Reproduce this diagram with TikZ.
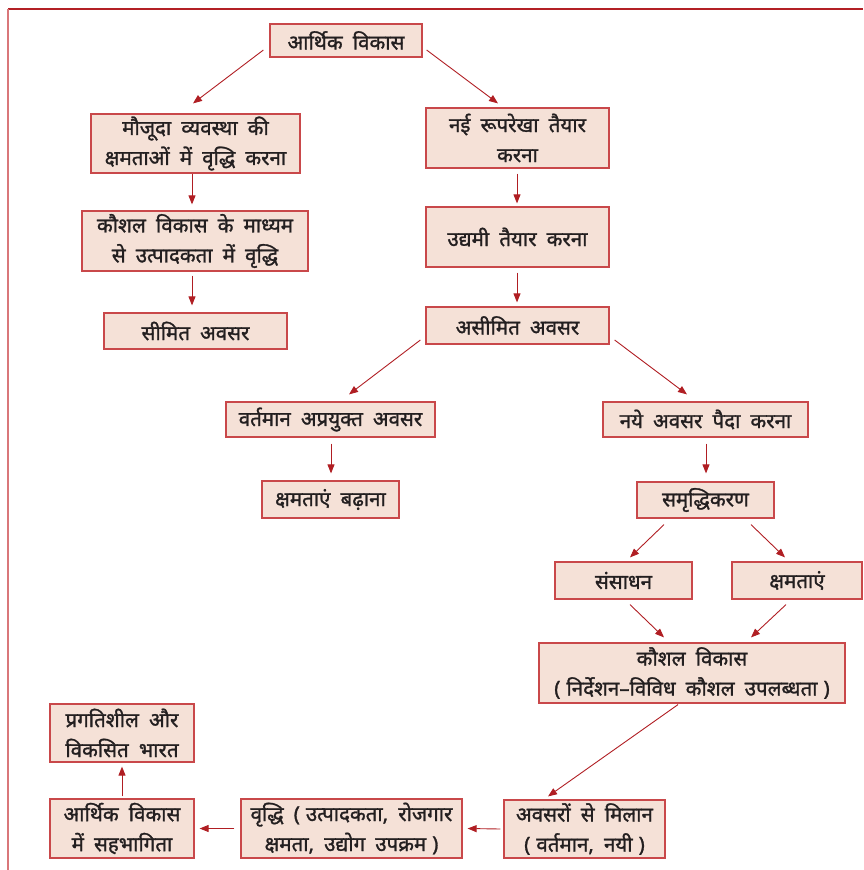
\documentclass[tikz,border=0pt]{standalone}
\usepackage{fontspec}
\setmainfont[Script=Devanagari,FakeBold=1.3,WordSpace=1.9]{Noto Sans}
\usetikzlibrary{arrows.meta}
\definecolor{lnred}{HTML}{B01E23}
\definecolor{bxfill}{HTML}{F5E1D7}
\definecolor{bxdraw}{HTML}{C9484A}
\definecolor{frtop}{HTML}{B32025}
\definecolor{frleft}{HTML}{D9777A}
\definecolor{txt}{HTML}{231F20}
\newcommand{\lp}{(\hspace{6pt}}
\newcommand{\rp}{\hspace{6pt})}
\tikzset{
  bx/.style={draw=bxdraw, fill=bxfill, line width=1.2pt, inner sep=0pt, align=center,
    text=txt, font=\fontsize{20.5}{30}\selectfont},
  arr/.style={draw=lnred, line width=0.9pt, -{Triangle[length=9pt,width=7pt]}}
}
\begin{document}
\begin{tikzpicture}[x=1pt,y=-1pt]
\useasboundingbox (0,0) rectangle (863,870);
\draw[frtop, line width=1.2pt] (8,9) -- (863,9);
\draw[frleft, line width=1.2pt] (8,9) -- (8,870);
% nodes
\node[bx, minimum width=152, minimum height=33] (n1) at (346,40.5) {आर्थिक विकास};
\node[bx, minimum width=209, minimum height=59] (n2) at (195.5,143.5) {मौजूदा व्यवस्था की\\क्षमताओं में वृद्धि करना};
\node[bx, minimum width=183, minimum height=60] (n3) at (517.5,138) {नई रूपरेखा तैयार\\करना};
\node[bx, minimum width=226, minimum height=60] (n4) at (195,241) {कौशल विकास के माध्यम\\से उत्पादकता में वृद्धि};
\node[bx, minimum width=183, minimum height=60] (n5) at (517.5,237) {उद्यमी तैयार करना};
\node[bx, minimum width=183, minimum height=36] (n6) at (195.5,331) {सीमित अवसर};
\node[bx, minimum width=183, minimum height=37] (n7) at (517.5,325.5) {असीमित अवसर};
\node[bx, minimum width=209, minimum height=35] (n8) at (330.5,419.5) {वर्तमान अप्रयुक्त अवसर};
\node[bx, minimum width=137, minimum height=37] (n9) at (330.5,499.5) {क्षमताएं बढ़ाना};
\node[bx, minimum width=205, minimum height=35] (n10) at (705.5,419.5) {नये अवसर पैदा करना};
\node[bx, minimum width=137, minimum height=36] (n11) at (705.5,500) {समृद्धिकरण};
\node[bx, minimum width=137, minimum height=37] (n12) at (623.5,580.5) {संसाधन};
\node[bx, minimum width=130, minimum height=37] (n13) at (797,580.5) {क्षमताएं};
\node[bx, minimum width=306, minimum height=60] (n14) at (692,673) {कौशल विकास\\\lp निर्देशन–विविध कौशल उपलब्धता\rp};
\node[bx, minimum width=144, minimum height=58] (n15) at (122,733) {प्रगतिशील और\\विकसित भारत};
\node[bx, minimum width=144, minimum height=59] (n16) at (122,828.5) {आर्थिक विकास\\में सहभागिता};
\node[bx, minimum width=221, minimum height=59] (n17) at (351.5,828.5) {वृद्धि \lp उत्पादकता, रोजगार\\क्षमता, उद्योग उपक्रम\rp};
\node[bx, minimum width=161, minimum height=58] (n18) at (584.5,829) {अवसरों से मिलान\\\lp वर्तमान, नयी\rp};
% connectors
\draw[arr] ([xshift=-6pt,yshift=-9.5pt]n1.west) -- ([xshift=-2.5pt,yshift=10pt]n2.north);
\draw[arr] ([xshift=4pt,yshift=-9.5pt]n1.east) -- ([xshift=-19.5pt,yshift=4pt]n3.north);
\draw[arr, shorten >=6pt] ([xshift=-3.5pt]n2.south) -- ([xshift=-3pt]n4.north);
\draw[arr, shorten <=4pt, shorten >=7pt] ([xshift=-3pt]n4.south) -- ([xshift=-3.5pt]n6.north);
\draw[arr, shorten <=5pt, shorten >=3pt] ([xshift=-0.5pt]n3.south) -- ([xshift=-0.5pt]n5.north);
\draw[arr, shorten <=5pt, shorten >=4pt] ([xshift=-0.5pt]n5.south) -- ([xshift=-0.5pt]n7.north);
\draw[arr] ([xshift=-5pt,yshift=-14.5pt]n7.west) -- ([xshift=18.5pt,yshift=7pt]n8.north);
\draw[arr] ([xshift=5pt,yshift=-14.5pt]n7.east) -- ([xshift=-18.5pt,yshift=7pt]n10.north);
\draw[arr, shorten <=6pt, shorten >=7pt] ([xshift=0.5pt]n8.south) -- ([xshift=0.5pt]n9.north);
\draw[arr, shorten <=6pt, shorten >=8pt] ([xshift=0.5pt]n10.south) -- ([xshift=0.5pt]n11.north);
\draw[arr] ([xshift=-41.5pt,yshift=-6pt]n11.south) -- ([xshift=6.5pt,yshift=4pt]n12.north);
\draw[arr] ([xshift=45.5pt,yshift=-6pt]n11.south) -- ([xshift=-12pt,yshift=4pt]n13.north);
\draw[arr] ([xshift=6.5pt,yshift=-5pt]n12.south) -- ([xshift=-28pt,yshift=5pt]n14.north);
\draw[arr] ([xshift=-11pt,yshift=-5pt]n13.south) -- ([xshift=59pt,yshift=5pt]n14.north);
\draw[arr] ([xshift=-14pt,yshift=-1pt]n14.south) -- ([xshift=-36.5pt,yshift=3pt]n18.north);
\draw[arr] ([xshift=-3pt]n18.west) -- ([xshift=5pt]n17.east);
\draw[arr] ([xshift=-6pt]n17.west) -- ([xshift=5pt]n16.east);
\draw[arr] ([yshift=2pt]n16.north) -- ([yshift=-4pt]n15.south);
\end{tikzpicture}
\end{document}
